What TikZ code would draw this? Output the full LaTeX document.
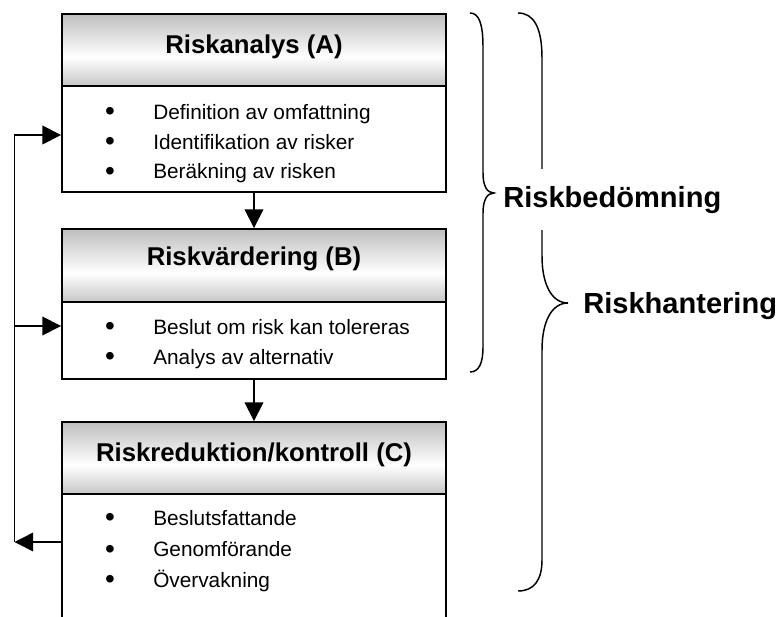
\documentclass[tikz,border=0pt]{standalone}
\usepackage{fontspec}
\setmainfont{Liberation Sans}
\usetikzlibrary{arrows.meta}
\definecolor{hdrtop}{RGB}{190,190,190}
\definecolor{hdrbot}{RGB}{198,198,198}
% grey at the top, white a little below the middle, grey at the bottom
\pgfdeclareverticalshading{hdrshade}{100bp}{color(0bp)=(hdrbot); color(25bp)=(hdrbot); color(45bp)=(white); color(75bp)=(hdrtop); color(100bp)=(hdrtop)}

\begin{document}
\begin{tikzpicture}[x=0.75pt,y=-0.75pt,
  frame/.style={draw=black, line width=1.4pt},
  header/.style={frame, shade, shading=hdrshade, minimum width=288pt, inner sep=0pt},
  bodybox/.style={frame, fill=white, minimum width=288pt, inner sep=0pt},
  title/.style={font=\bfseries\fontsize{19.3}{22}\selectfont, anchor=base, inner sep=0pt},
  item/.style={font=\fontsize{15.6}{18}\selectfont, anchor=base west, inner sep=0pt},
  dot/.style={font=\fontsize{21}{24}\selectfont, anchor=base, inner sep=0pt, yshift=-1.2pt},
  link/.style={line width=1.1pt, -{Triangle[length=14pt,width=14pt]}},
  brace/.style={line width=1.1pt},
  group/.style={font=\bfseries\fontsize{21.8}{26}\selectfont, anchor=base west, inner sep=0pt}
]
\useasboundingbox (0,0) rectangle (778,617);

% ---- Riskanalys (A)
\node[header, minimum height=54pt] (ha) at (254,50) {};
\node[title] (ta) at (254,53.5) {Riskanalys (A)};
\node[bodybox, minimum height=79.5pt] (ba) at (254,139) {};
\node[dot] (da1) at (110,119) {\textbullet};
\node[item] (ia1) at (153,119) {Definition av omfattning};
\node[dot] (da2) at (110,149) {\textbullet};
\node[item] (ia2) at (153,149) {Identifikation av risker};
\node[dot] (da3) at (110,178.5) {\textbullet};
\node[item] (ia3) at (153,178.5) {Beräkning av risken};

% ---- Riskvärdering (B)
\node[header, minimum height=54.75pt] (hb) at (254,265.5) {};
\node[title] (tb) at (254,265) {Riskvärdering (B)};
\node[bodybox, minimum height=57.75pt] (bb) at (254,340.5) {};
\node[dot] (db1) at (110,334) {\textbullet};
\node[item] (ib1) at (153,334) {Beslut om risk kan tolereras};
\node[dot] (db2) at (110,364) {\textbullet};
\node[item] (ib2) at (153,364) {Analys av alternativ};

% ---- Riskreduktion/kontroll (C), open at the foot
\node[header, minimum height=54pt] (hc) at (254,458) {};
\node[title] (tc) at (254,461) {Riskreduktion/kontroll (C)};
\node[minimum width=288pt, minimum height=92.25pt, inner sep=0pt] (bc) at (254,555.5) {};
\draw[frame] (bc.north west) -- (bc.south west);
\draw[frame] (bc.north east) -- (bc.south east);
\node[dot] (dc1) at (110,525) {\textbullet};
\node[item] (ic1) at (153,525) {Beslutsfattande};
\node[dot] (dc2) at (110,556.5) {\textbullet};
\node[item] (ic2) at (153,556.5) {Genomförande};
\node[dot] (dc3) at (110,587) {\textbullet};
\node[item] (ic3) at (153,587) {Övervakning};

% ---- flow between the stages
\draw[link] (ba.south) -- (hb.north);
\draw[link] (bb.south) -- (hc.north);

% ---- feedback loop on the left
\coordinate (fbTurn) at (14.5,542);
\coordinate (fbA) at (14.5,135);
\coordinate (fbB) at (14.5,326);
\draw[link] (bc.west |- fbTurn) -- (fbTurn);
\draw[link] (fbTurn) -- (fbA) -- (ba.west |- fbA);
\draw[link] (fbB) -- (bb.west |- fbB);

% ---- braces and their labels
\draw[brace] (518,13) .. controls (534,13) and (542,28) .. (542,58) -- (542,256)
  .. controls (542,285) and (552,303) .. (568,303)
  .. controls (552,303) and (542,321) .. (542,350) -- (542,560)
  .. controls (542,580) and (534,591) .. (518,591);
\draw[brace] (470,13) .. controls (479,13) and (483,24) .. (483,47) -- (483,173)
  .. controls (483,186) and (487,193) .. (494,193)
  .. controls (487,193) and (483,200) .. (483,213) -- (483,347)
  .. controls (483,363) and (479,372) .. (470,372);
\node[group, fill=white, text height=28.5pt, text depth=17pt] (lbed) at (503,207) {Riskbedömning};
\node[group] (lhan) at (583,313) {Riskhantering};
\end{tikzpicture}
\end{document}
